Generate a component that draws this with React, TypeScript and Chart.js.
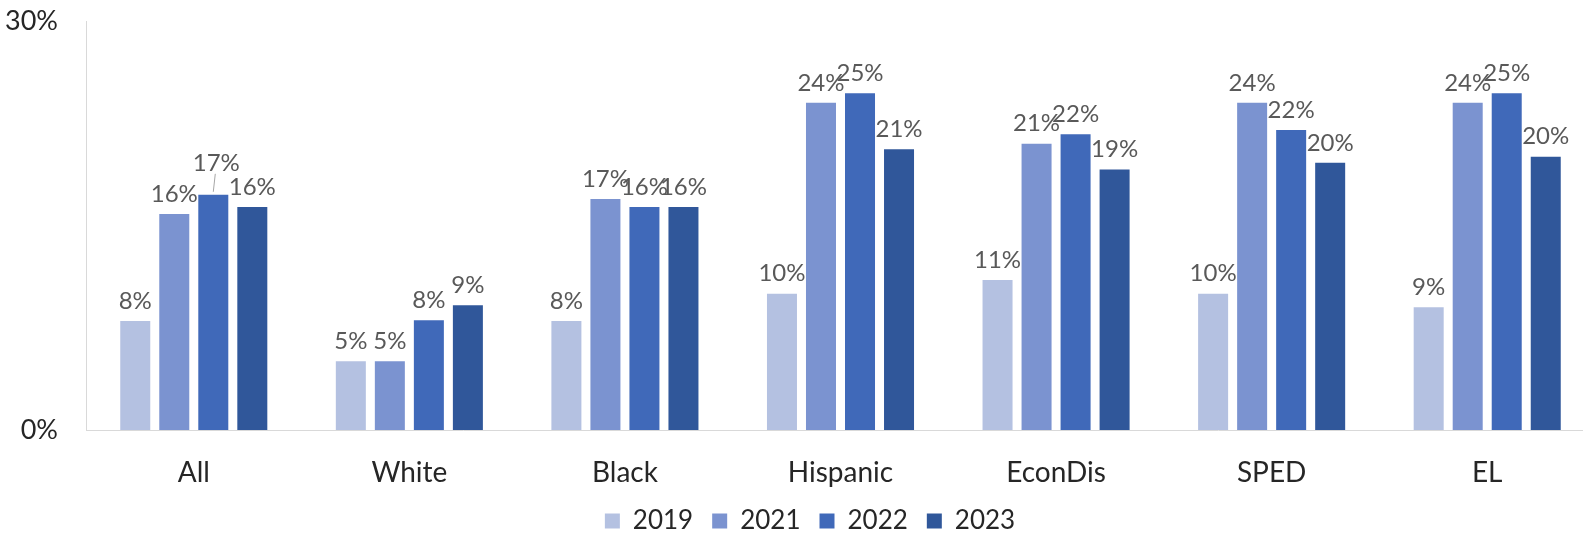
import React, { useEffect, useRef } from "react";
import { Chart, registerables } from "chart.js";

Chart.register(...registerables);

const categories = ["All", "White", "Black", "Hispanic", "EconDis", "SPED", "EL"];
const seriesLabels = ["2019", "2021", "2022", "2023"];
const values2019 = [8.0, 5.05, 8.0, 10.0, 11.0, 10.0, 9.0];
const values2021 = [15.85, 5.05, 16.95, 24.0, 21.0, 24.0, 24.0];
const values2022 = [17.25, 8.05, 16.35, 24.7, 21.7, 22.0, 24.7];
const values2023 = [16.35, 9.15, 16.35, 20.6, 19.1, 19.6, 20.05];
const yTicks = [0, 30];
const colors = ["#b4c1e1", "#7b93d0", "#4069b9", "#30579a"];

const FONT = "Lato";

const labelPlugin = {
  id: "barValueLabels",
  afterLayout(chart: any) {
    if (chart.legend) chart.legend.left += 25;
  },
  afterDatasetsDraw(chart: any) {
    const ctx = chart.ctx;
    ctx.save();
    ctx.font = `24px ${FONT}`;
    ctx.fillStyle = "#595959";
    ctx.textAlign = "center";
    ctx.textBaseline = "middle";
    chart.data.datasets.forEach((ds: any, di: number) => {
      const meta = chart.getDatasetMeta(di);
      meta.data.forEach((el: any, i: number) => {
        const v = ds.data[i];
        const txt = Math.round(v) + "%";
        let lift = 20;
        const moved = di === 2 && i === 0;
        if (moved) lift = 32;
        const y = el.y - lift;
        ctx.fillText(txt, el.x + (moved ? 3 : 0), y);
        if (moved) {
          ctx.strokeStyle = "#a6a6a6";
          ctx.lineWidth = 1;
          ctx.beginPath();
          ctx.moveTo(el.x, el.y - 3);
          ctx.lineTo(el.x + 2, y + 11);
          ctx.stroke();
        }
      });
    });
    ctx.restore();
  },
};

export default function App() {
  const ref = useRef<HTMLCanvasElement | null>(null);
  useEffect(() => {
    document.body.style.margin = "0";
    const dataArrays = [values2019, values2021, values2022, values2023];
    const chart = new Chart(ref.current as HTMLCanvasElement, {
      type: "bar",
      data: {
        labels: categories,
        datasets: seriesLabels.map((l, k) => ({
          label: l,
          data: dataArrays[k],
          backgroundColor: colors[k],
          borderWidth: 0,
          barPercentage: 0.769,
          categoryPercentage: 0.724,
        })),
      },
      options: {
        animation: false,
        responsive: false,
        maintainAspectRatio: false,
        layout: { padding: { top: 21, left: 0, right: 0, bottom: 0 } },
        plugins: {
          tooltip: { enabled: false },
          legend: {
            position: "bottom",
            labels: {
              font: { family: FONT, size: 26 },
              color: "#262626",
              boxWidth: 15,
              boxHeight: 15,
              padding: 19,
            },
          },
        },
        scales: {
          x: {
            grid: { display: false, drawTicks: false },
            border: { display: true, color: "#d9d9d9", width: 1 },
            ticks: {
              font: { family: FONT, size: 28 },
              color: "#262626",
              padding: 26,
            },
            afterFit(scale: any) {
              scale.height = 59;
            },
          },
          y: {
            min: 0,
            max: 30,
            afterBuildTicks(scale: any) {
              scale.ticks = yTicks.map((v) => ({ value: v }));
            },
            grid: { display: false, drawTicks: true, tickLength: 28 },
            border: { display: true, color: "#d9d9d9", width: 1 },
            ticks: {
              font: { family: FONT, size: 27 },
              color: "#262626",
              padding: 0,
              callback: (v: any) => v + "%",
            },
            afterFit(scale: any) {
              scale.width = 86;
            },
          },
        },
      },
      plugins: [labelPlugin],
    });
    return () => chart.destroy();
  }, []);
  return (
    <div style={{ width: 1583, height: 533, overflow: "hidden", position: "relative" }}>
      <canvas ref={ref} width={1595} height={544} style={{ display: "block" }} />
    </div>
  );
}
